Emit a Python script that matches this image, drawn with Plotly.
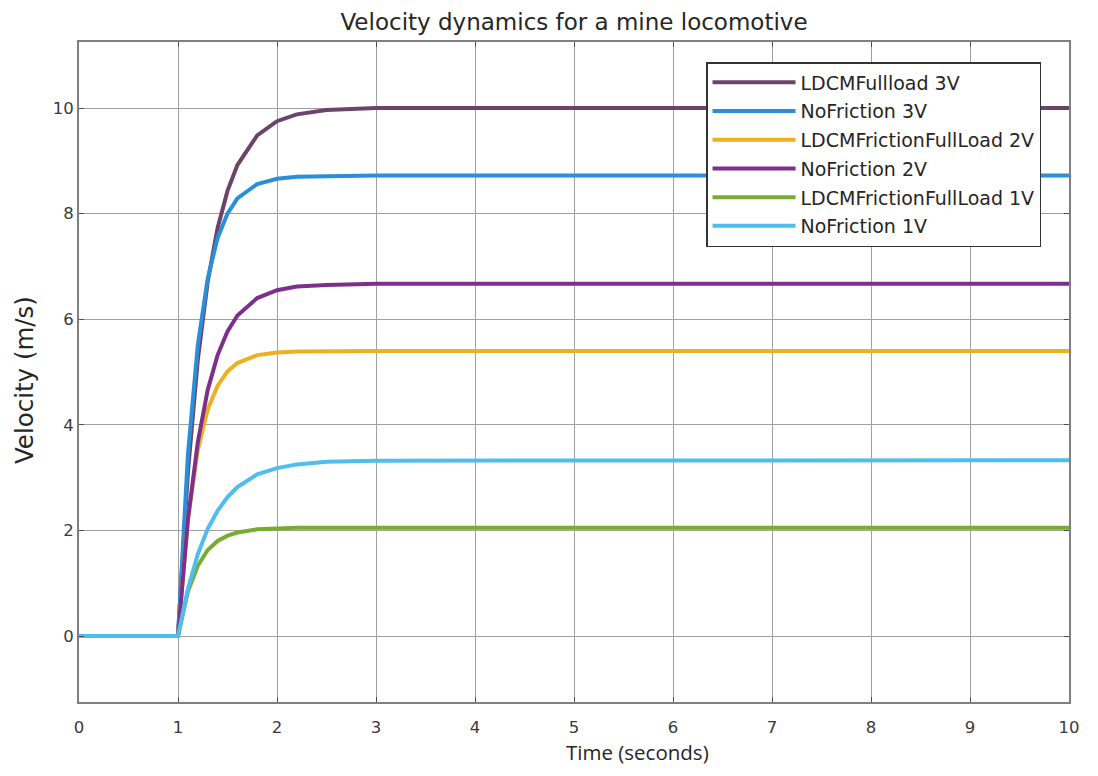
import plotly.graph_objects as go

# time samples (seconds)
time_s = [0, 1.0, 1.1, 1.2, 1.3, 1.4, 1.5, 1.6, 1.8, 2.0, 2.2, 2.5, 3.0, 10]

# velocities (m/s)
ldcm_fullload_3v = [0, 0, 3.10, 5.23, 6.71, 7.73, 8.43, 8.92, 9.48, 9.75, 9.88, 9.96, 10.0, 10.0]
nofriction_3v = [0, 0, 3.43, 5.51, 6.77, 7.54, 8.00, 8.29, 8.56, 8.66, 8.70, 8.71, 8.72, 8.72]
ldcm_friction_fullload_2v = [0, 0, 2.21, 3.52, 4.29, 4.74, 5.01, 5.17, 5.32, 5.37, 5.39, 5.40, 5.40, 5.40]
nofriction_2v = [0, 0, 2.20, 3.67, 4.66, 5.32, 5.77, 6.07, 6.40, 6.55, 6.62, 6.65, 6.67, 6.67]
ldcm_friction_fullload_1v = [0, 0, 0.84, 1.33, 1.63, 1.80, 1.90, 1.96, 2.02, 2.04, 2.05, 2.05, 2.05, 2.05]
nofriction_1v = [0, 0, 0.89, 1.55, 2.03, 2.37, 2.63, 2.82, 3.06, 3.18, 3.25, 3.30, 3.32, 3.33]

series_names = [
    "LDCMFullload 3V",
    "NoFriction 3V",
    "LDCMFrictionFullLoad 2V",
    "NoFriction 2V",
    "LDCMFrictionFullLoad 1V",
    "NoFriction 1V",
]
series_values = [
    ldcm_fullload_3v,
    nofriction_3v,
    ldcm_friction_fullload_2v,
    nofriction_2v,
    ldcm_friction_fullload_1v,
    nofriction_1v,
]
series_colors = ["#6B4468", "#2B8ED8", "#EDB120", "#7E2F8E", "#77AC30", "#4DBEEE"]

x_ticks = [0, 1, 2, 3, 4, 5, 6, 7, 8, 9, 10]
y_ticks = [0, 2, 4, 6, 8, 10]

FONT = "DejaVu Sans, Liberation Sans, Arial, sans-serif"

fig = go.Figure()
for i, (name, vals, col) in enumerate(zip(series_names, series_values, series_colors)):
    fig.add_trace(go.Scatter(
        x=time_s, y=vals, mode="lines", name=name,
        line=dict(color=col, width=4),
        legendgroup=f"g{i}",
    ))

axis_common = dict(
    showline=True, linecolor="#7f7f7f", linewidth=2, mirror="ticks",
    ticks="inside", ticklen=5, tickcolor="#4d4d4d", tickwidth=1,
    showgrid=True, gridcolor="#a0a0a0", gridwidth=1,
    zeroline=False,
    tickfont=dict(family=FONT, size=16.5, color="#3a3a3a"),
)

fig.update_xaxes(range=[0, 10], tickvals=x_ticks, ticklabelstandoff=9,
                 ticklabeloverflow="allow", **axis_common)
fig.update_yaxes(range=[-1.25, 11.25], tickvals=y_ticks, **axis_common)

W, H = 1080, 760
L, R, T, B = 71, 8, 34, 66
plot_w = W - L - R
plot_h = H - T - B

fig.update_layout(
    width=W, height=H,
    margin=dict(l=L, r=R, t=T, b=B),
    paper_bgcolor="white", plot_bgcolor="white",
    title=dict(text="Velocity dynamics for a mine locomotive",
               x=0.5, xref="paper", y=1 - 14 / H, yref="container", yanchor="middle",
               font=dict(family=FONT, size=23, color="#262626")),
    legend=dict(
        x=(705 - L) / plot_w, y=(H - B - 54) / plot_h, xanchor="left", yanchor="top",
        bgcolor="white", bordercolor="#333333", borderwidth=1.5,
        font=dict(family=FONT, size=19, color="#262626"),
        itemwidth=83, tracegroupgap=1,
    ),
    showlegend=True,
    annotations=[
        dict(text="Time (seconds)", xref="paper", yref="paper",
             x=(636 - L) / plot_w, y=0, yshift=-50, xanchor="center", yanchor="middle",
             showarrow=False, font=dict(family="Open Sans, sans-serif", size=20.5, color="#262626")),
        dict(text="Velocity (m/s)", xref="paper", yref="paper",
             x=0, xshift=-55, y=(H - B - 372) / plot_h, xanchor="center", yanchor="middle",
             textangle=-90, showarrow=False,
             font=dict(family=FONT, size=24.5, color="#262626")),
    ],
)

fig.write_html("out.html")
